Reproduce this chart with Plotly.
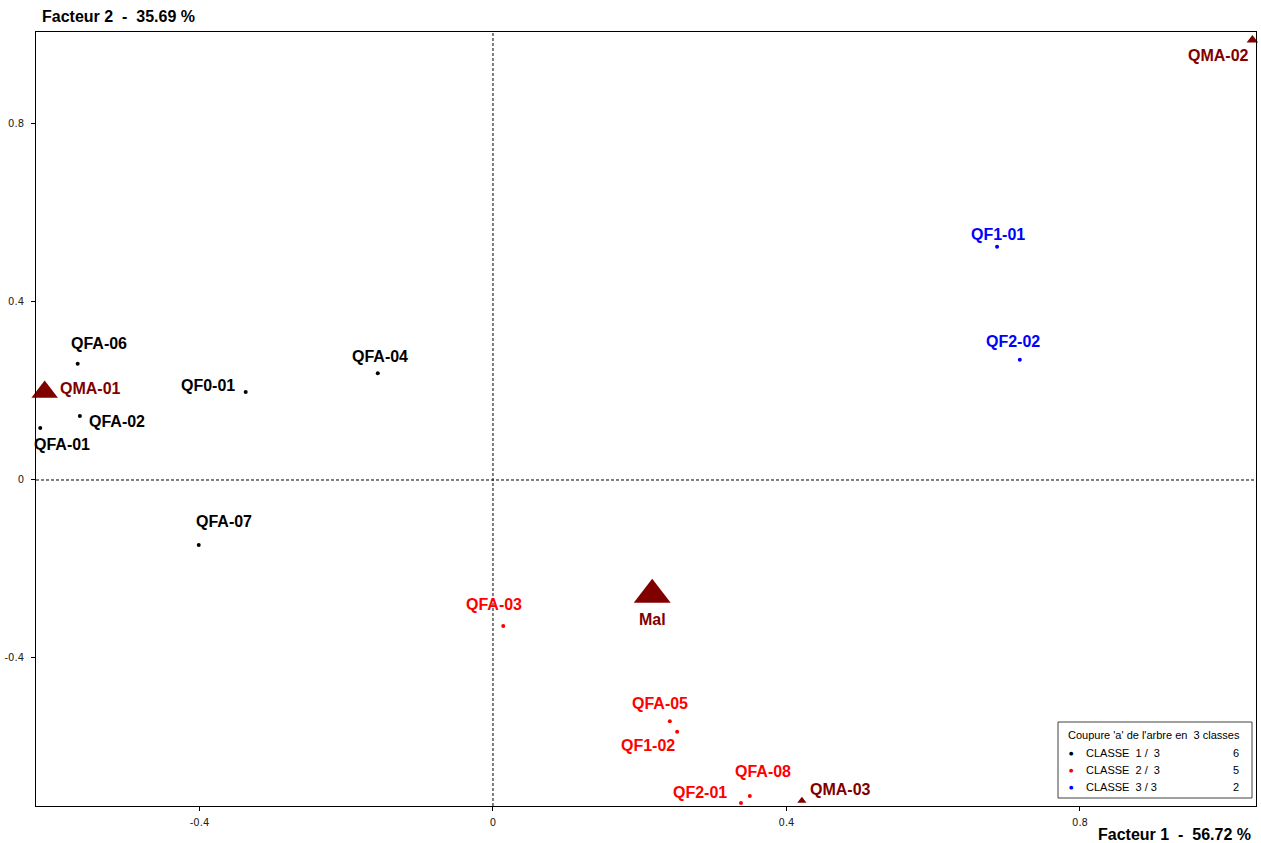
import plotly.graph_objects as go

# ---------------- data ----------------
class1_names = ["QFA-01", "QFA-02", "QFA-04", "QFA-06", "QFA-07", "QF0-01"]
class1_x = [-0.617, -0.563, -0.157, -0.566, -0.401, -0.337]
class1_y = [0.117, 0.144, 0.240, 0.261, -0.146, 0.198]

class2_names = ["QFA-03", "QFA-05", "QF1-02", "QFA-08", "QF2-01"]
class2_x = [0.014, 0.241, 0.251, 0.350, 0.338]
class2_y = [-0.328, -0.542, -0.566, -0.710, -0.726]

class3_names = ["QF1-01", "QF2-02"]
class3_x = [0.687, 0.718]
class3_y = [0.524, 0.270]

supp_names = ["QMA-01", "QMA-02", "QMA-03", "Mal"]
supp_x = [-0.611, 1.035, 0.421, 0.217]
supp_y = [0.198, 0.989, -0.721, -0.258]

x_ticks = [-0.4, 0, 0.4, 0.8]
y_ticks = [-0.4, 0, 0.4, 0.8]
x_title = "Facteur 1  -  56.72 %"
y_title = "Facteur 2  -  35.69 %"
legend_title = "Coupure 'a' de l'arbre en  3 classes"
class_labels = ["CLASSE  1 /  3", "CLASSE  2 /  3", "CLASSE  3 / 3"]

# ---------------- styles ----------------
class_colors = ["#000000", "#ff0000", "#0000ff"]
supp_color = "#800000"
supp_sizes = [23, 10, 8, 32]
# label offsets (px, right / down) relative to the point
off1 = [(22, 17), (37, 6), (2, -17), (21, -20), (25, -23), (-38, -6)]
off2 = [(-9, -21), (-10, -18), (-29, 14), (13, -24), (-41, -11)]
off3 = [(1, -12), (-7, -18)]
offs = [(46, -3), (-34, 16), (39, -11), (0, 25)]

X_RANGE = [-0.6228, 1.0399]
Y_RANGE = [-0.7326, 1.0067]

# page body margin is removed by post_script: figure origin = window origin
W, H = 1261, 843
L, T = 36, 32
R = W - 1256
B = H - 806
PW, PH = W - L - R, H - T - B


def nb(s):
    return s.replace(" ", "\u00a0")


def px2paper(px, py):
    """window pixel -> paper coords"""
    return (px - L) / PW, (H - B - py) / PH


fig = go.Figure()
annotations = []
label_font = dict(family="Liberation Sans, Arial, sans-serif", size=16, weight="bold")

groups = [
    (class1_names, class1_x, class1_y, off1, class_colors[0]),
    (class2_names, class2_x, class2_y, off2, class_colors[1]),
    (class3_names, class3_x, class3_y, off3, class_colors[2]),
]
for names, xs, ys, offsets, col in groups:
    fig.add_trace(go.Scatter(
        x=xs, y=ys, mode="markers",
        marker=dict(color=col, size=4, opacity=1, line=dict(width=0)),
        cliponaxis=False, hoverinfo="text", text=names, showlegend=False,
    ))
    for n, x, y, (dx, dy) in zip(names, xs, ys, offsets):
        annotations.append(dict(
            x=x, y=y, xref="x", yref="y", text=n, showarrow=False,
            xshift=dx, yshift=-dy, xanchor="center", yanchor="middle",
            font=dict(color=col, **label_font),
        ))

fig.add_trace(go.Scatter(
    x=supp_x, y=supp_y, mode="markers",
    marker=dict(color=supp_color, size=supp_sizes, symbol="triangle-up",
                opacity=1, line=dict(width=0)),
    cliponaxis=False, hoverinfo="text", text=supp_names, showlegend=False,
))
for n, x, y, (dx, dy) in zip(supp_names, supp_x, supp_y, offs):
    annotations.append(dict(
        x=x, y=y, xref="x", yref="y", text=n, showarrow=False,
        xshift=dx, yshift=-dy, xanchor="center", yanchor="middle",
        font=dict(color=supp_color, **label_font),
    ))

# axis titles
title_font = dict(family="Liberation Sans, Arial, sans-serif", size=16, weight="bold", color="#000000")
ax, ay = px2paper(40, 17)
annotations.append(dict(x=ax, y=ay, xref="paper", yref="paper", text=nb(y_title),
                        showarrow=False, xanchor="left", yanchor="middle", font=title_font))
ax, ay = px2paper(1253, 835)
annotations.append(dict(x=ax, y=ay, xref="paper", yref="paper", text=nb(x_title),
                        showarrow=False, xanchor="right", yanchor="middle", font=title_font))

# dashed zero lines
shapes = [
    dict(type="line", xref="x", yref="paper", x0=0, x1=0, y0=0, y1=1,
         line=dict(color="#000000", width=1, dash="3px,2px")),
    dict(type="line", xref="paper", yref="y", x0=0, x1=1, y0=0, y1=0,
         line=dict(color="#000000", width=1, dash="3px,2px")),
]

# custom legend box
bx0, by0 = px2paper(1058, 798)
bx1, by1 = px2paper(1252, 722)
shapes.append(dict(type="rect", xref="paper", yref="paper", x0=bx0, x1=bx1, y0=by0, y1=by1,
                   fillcolor="#ffffff", line=dict(color="#404040", width=1), layer="above"))
leg_font = dict(family="Liberation Sans, Arial, sans-serif", size=11, color="#000000")
tx, ty = px2paper(1066, 735)
annotations.append(dict(x=tx, y=ty, xref="paper", yref="paper", text=nb(legend_title),
                        showarrow=False, xanchor="left", yanchor="middle", font=leg_font))
counts = [len(class1_names), len(class2_names), len(class3_names)]
for i, (lab, col, cnt) in enumerate(zip(class_labels, class_colors, counts)):
    rowy = 753 + i * 17
    dx_, dy_ = px2paper(1071, rowy)
    annotations.append(dict(x=dx_, y=dy_, xref="paper", yref="paper", text="\u25cf",
                            showarrow=False, xanchor="center", yanchor="middle",
                            font=dict(family="DejaVu Sans", size=5, color=col)))
    lx, ly = px2paper(1084, rowy)
    annotations.append(dict(x=lx, y=ly, xref="paper", yref="paper", text=nb(lab),
                            showarrow=False, xanchor="left", yanchor="middle", font=leg_font))
    cx, cy = px2paper(1241, rowy)
    annotations.append(dict(x=cx, y=cy, xref="paper", yref="paper", text=str(cnt),
                            showarrow=False, xanchor="right", yanchor="middle", font=leg_font))

tick_font = dict(family="DejaVu Sans, sans-serif", size=10, color="#222222")
fig.update_layout(
    width=W, height=H,
    margin=dict(l=L, r=R, t=T, b=B, pad=0, autoexpand=False),
    paper_bgcolor="#ffffff", plot_bgcolor="#ffffff",
    showlegend=False,
    annotations=annotations, shapes=shapes,
    xaxis=dict(range=X_RANGE, tickvals=x_ticks, ticktext=[str(v) for v in x_ticks],
               showgrid=False, zeroline=False, showline=True, mirror=True, automargin=False,
               linecolor="#000000", linewidth=1, ticks="outside", ticklen=4,
               tickcolor="#000000", tickfont=tick_font, ticklabelstandoff=3),
    yaxis=dict(range=Y_RANGE, tickvals=y_ticks, ticktext=[str(v) for v in y_ticks],
               showgrid=False, zeroline=False, showline=True, mirror=True, automargin=False,
               linecolor="#000000", linewidth=1, ticks="outside", ticklen=4,
               tickcolor="#000000", tickfont=tick_font, ticklabelstandoff=5),
)

fig.write_html("out.html", config={"displayModeBar": False},
               post_script="document.body.style.margin='0px';document.body.style.overflow='hidden';")
